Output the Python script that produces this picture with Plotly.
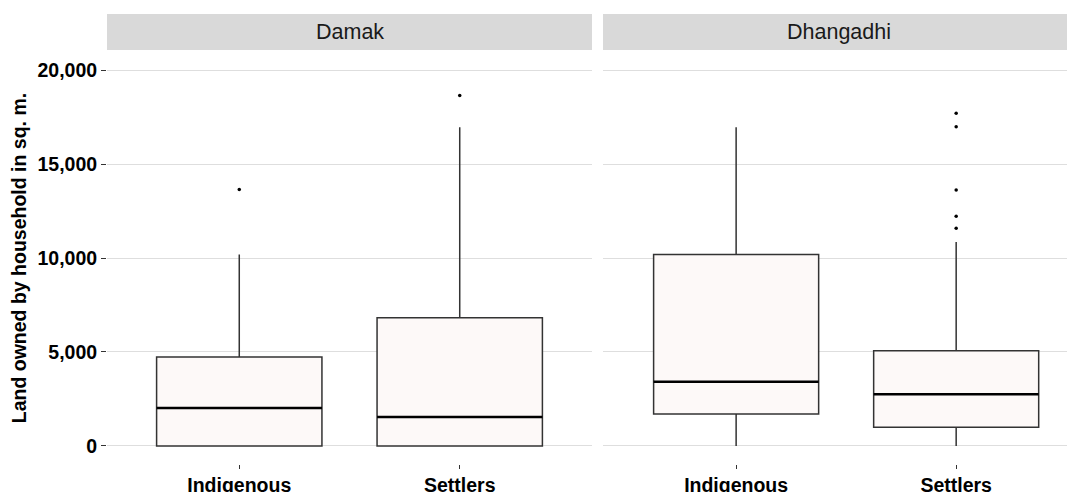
import plotly.graph_objects as go

# categories and facets
groups = ["Indigenous", "Settlers"]
sites = ["Damak", "Dhangadhi"]

# box statistics (sq. m.)
lower = {"Damak": [0, 0], "Dhangadhi": [0, 0]}
q1 = {"Damak": [0, 0], "Dhangadhi": [1700, 1000]}
median = {"Damak": [2020, 1540], "Dhangadhi": [3420, 2750]}
q3 = {"Damak": [4730, 6820], "Dhangadhi": [10180, 5060]}
upper = {"Damak": [10180, 16950], "Dhangadhi": [16950, 10850]}

# outliers
out_damak_ind = [13650]
out_damak_set = [18650]
out_dhang_ind = []
out_dhang_set = [17700, 16980, 13620, 12220, 11580]
outliers = {"Damak": [out_damak_ind, out_damak_set],
            "Dhangadhi": [out_dhang_ind, out_dhang_set]}

y_ticks = [0, 5000, 10000, 15000, 20000]

BOX_W = 0.75
FILL = "#FDF9F8"
EDGE = "#333333"

fig = go.Figure()

for i, site in enumerate(sites):
    xa = "x" if i == 0 else "x2"
    ya = "y" if i == 0 else "y2"
    for j, g in enumerate(groups):
        fig.add_trace(go.Box(
            x=[j], q1=[q1[site][j]], median=[median[site][j]], q3=[q3[site][j]],
            lowerfence=[lower[site][j]], upperfence=[upper[site][j]],
            width=BOX_W, whiskerwidth=0, fillcolor=FILL,
            line=dict(color=EDGE, width=1.5), boxpoints=False,
            showlegend=False, hoverinfo="skip", xaxis=xa, yaxis=ya))
        # thicker median line as in ggplot
        fig.add_trace(go.Scatter(
            x=[j - BOX_W / 2, j + BOX_W / 2], y=[median[site][j]] * 2,
            mode="lines", line=dict(color="black", width=2.6),
            showlegend=False, hoverinfo="skip", xaxis=xa, yaxis=ya))
        pts = outliers[site][j]
        if pts:
            fig.add_trace(go.Scatter(
                x=[j] * len(pts), y=pts, mode="markers",
                marker=dict(color="black", size=3.5),
                showlegend=False, hoverinfo="skip", xaxis=xa, yaxis=ya))

# the page body adds an 8px offset, so the figure is sized/margined to compensate
OFF = 8
W, H = 1075 - OFF, 492 - OFF
ml, mr, mt, mb = 107 - OFF, 0, 14 - OFF, 28
pw = W - ml - mr
ph = H - mt - mb
dom1 = [0, 485 / pw]
dom2 = [(603 - 107) / pw, 1]
ytop = (464 - 52) / ph
strip_lo = (464 - 50) / ph

FAM = "Liberation Sans, Arial"
tickfont = dict(family=FAM, size=19.5, color="black", weight="bold")

xcommon = dict(tickvals=[0, 1], ticktext=groups, ticks="outside", ticklen=4,
               tickcolor=EDGE, tickwidth=1, showgrid=False, zeroline=False,
               showline=False, tickfont=tickfont, automargin=False)
fig.update_layout(
    xaxis=dict(domain=dom1, range=[-0.6, 1.6], anchor="y", **xcommon),
    xaxis2=dict(domain=dom2, range=[-0.605, 1.54], anchor="y2", **xcommon),
    yaxis=dict(domain=[0, ytop], range=[-960, 20960], tickvals=y_ticks, tickformat=",",
               ticks="outside", ticklen=5, tickcolor=EDGE, showgrid=True,
               gridcolor="#DEDEDE", gridwidth=1, zeroline=False, showline=False,
               tickfont=tickfont, anchor="x", automargin=False,
               title=dict(text="Land owned by household in sq. m.", standoff=8,
                          font=dict(family=FAM, size=19.5, color="black", weight="bold"))),
    yaxis2=dict(domain=[0, ytop], matches="y", range=[-960, 20960], tickvals=y_ticks,
                showticklabels=False, ticks="", showgrid=True, gridcolor="#DEDEDE",
                gridwidth=1, zeroline=False, showline=False, anchor="x2", automargin=False),
    width=W, height=H,
    margin=dict(l=ml, r=mr, t=mt, b=mb, pad=0),
    plot_bgcolor="white", paper_bgcolor="white",
)

for dom, site in zip([dom1, dom2], sites):
    fig.add_shape(type="rect", xref="paper", yref="paper", x0=dom[0], x1=dom[1],
                  y0=strip_lo, y1=1, fillcolor="#D9D9D9", line=dict(width=0), layer="below")
    fig.add_annotation(text=site, xref="paper", yref="paper", x=(dom[0] + dom[1]) / 2,
                       y=(strip_lo + 1) / 2, showarrow=False, xanchor="center", yanchor="middle",
                       font=dict(family=FAM, size=21.5, color="#1A1A1A"))

fig.write_html("out.html")
